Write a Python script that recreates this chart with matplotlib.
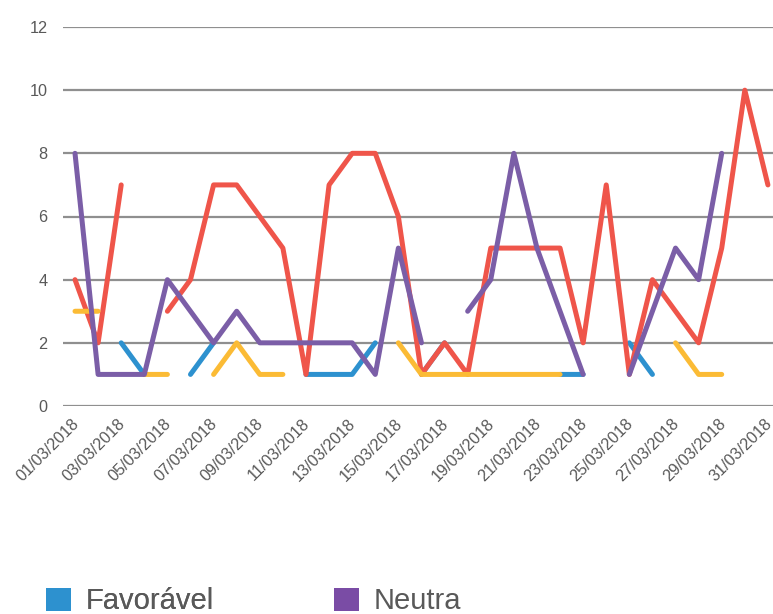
import numpy as np
import matplotlib
matplotlib.use("Agg")
import matplotlib.pyplot as plt
from matplotlib.patches import Patch
from matplotlib.transforms import ScaledTranslation

nan = np.nan
days = list(range(1, 32))
date_labels = [f"{d:02d}/03/2018" for d in days]

favoravel = [nan, nan, 2, 1, nan, 1, 2, nan, nan, nan, 1, 1, 1, 2, nan, 1, 2,
             nan, nan, nan, nan, 1, 1, nan, 2, 1, nan, nan, nan, nan, nan]
desfavoravel = [4, 2, 7, nan, 3, 4, 7, 7, 6, 5, 1, 7, 8, 8, 6, 1, 2,
                1, 5, 5, 5, 5, 2, 7, 1, 4, 3, 2, 5, 10, 7]
outra = [3, 3, nan, 1, 1, nan, 1, 2, 1, 1, nan, nan, nan, nan, 2, 1, 1,
         1, 1, 1, 1, 1, nan, nan, nan, nan, 2, 1, 1, nan, nan]
neutra = [8, 1, 1, 1, 4, 3, 2, 3, 2, 2, 2, 2, 2, 1, 5, 2, nan,
          3, 4, 8, 5, 3, 1, nan, 1, 3, 5, 4, 8, nan, nan]

c_blue = '#2d91cf'
c_red = '#ef554a'
c_yellow = '#fbbb35'
c_purple = '#7b5ea7'

W, H = 773, 614
fig = plt.figure(figsize=(W / 100, H / 100), dpi=100)
plt.rcParams['font.family'] = ['Liberation Sans', 'DejaVu Sans']

ax = fig.add_axes([63 / W, 1 - 406 / H, (W - 63) / W, (406 - 27) / H])

lw = 3.6
kw = dict(linewidth=lw, solid_capstyle='round', solid_joinstyle='round')
ax.plot(days, favoravel, color=c_blue, **kw)
ax.plot(days, desfavoravel, color=c_red, **kw)
ax.plot(days, outra, color=c_yellow, **kw)
ax.plot(days, neutra, color=c_purple, **kw)

ax.set_ylim(0, 12)
ax.set_xlim(0.48, 31.22)
ax.set_yticks([0, 2, 4, 6, 8, 10, 12])
ax.set_xticks(days[::2])
ax.set_xticklabels(date_labels[::2], rotation=45, ha='right',
                   rotation_mode='anchor')
ax.tick_params(axis='both', length=0, colors='#595959', labelsize=11.7)
ax.tick_params(axis='y', pad=11)
ax.tick_params(axis='x', pad=7)
off = ScaledTranslation(-4 / 100, 0, fig.dpi_scale_trans)
for lab in ax.get_xticklabels():
    lab.set_transform(lab.get_transform() + off)
for s in ax.spines.values():
    s.set_visible(False)
ax.grid(axis='y', color='#8f8f8f', linewidth=1.6)
ax.set_axisbelow(True)

h1 = [Patch(facecolor=c_blue, edgecolor='none')]
leg1 = fig.legend(h1, ['Favorável'], loc='upper left',
                  bbox_to_anchor=(20 / W, 1 - 561 / H), frameon=False,
                  fontsize=21, handlelength=0.85, handleheight=0.85,
                  handletextpad=0.5, labelcolor='#595959')
h2 = [Patch(facecolor='#7a4ca5', edgecolor='none')]
leg2 = fig.legend(h2, ['Neutra'], loc='upper left',
                  bbox_to_anchor=(308 / W, 1 - 561 / H), frameon=False,
                  fontsize=21, handlelength=0.85, handleheight=0.85,
                  handletextpad=0.5, labelcolor='#595959')
fig.add_artist(leg1)

fig.savefig('out.png', dpi=100)
